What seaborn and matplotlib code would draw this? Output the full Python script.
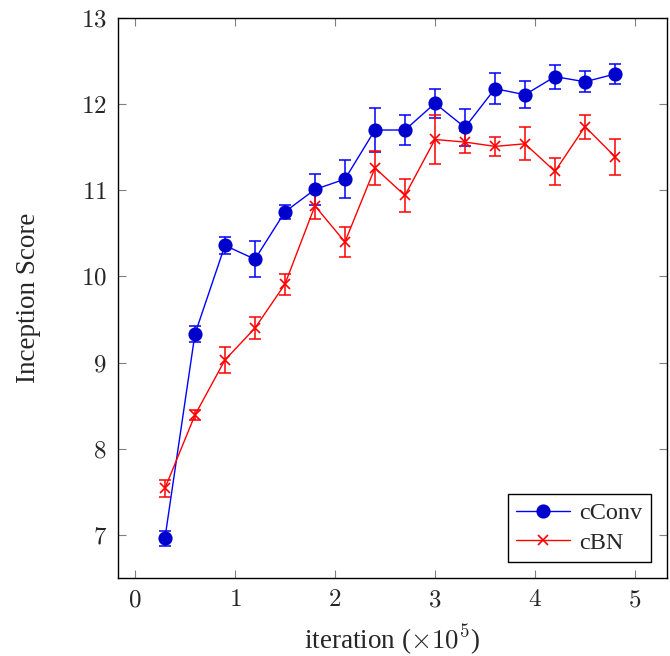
"""
Inception score vs iteration for cConv and cBN, with error bars.
"""

import matplotlib
matplotlib.use("Agg")
import matplotlib.pyplot as plt
import seaborn as sns
import pandas as pd

iterations = [0.3, 0.6, 0.9, 1.2, 1.5, 1.8, 2.1, 2.4, 2.7, 3.0, 3.3, 3.6, 3.9, 4.2, 4.5, 4.8]
cconv_mean = [6.96, 9.33, 10.36, 10.20, 10.75, 11.01, 11.13, 11.70, 11.70, 12.01, 11.73, 12.18, 12.11, 12.32, 12.26, 12.35]
cconv_err = [0.09, 0.09, 0.10, 0.21, 0.08, 0.18, 0.22, 0.25, 0.17, 0.17, 0.21, 0.18, 0.16, 0.14, 0.12, 0.12]
cbn_mean = [7.54, 8.39, 9.03, 9.40, 9.91, 10.82, 10.40, 11.26, 10.94, 11.59, 11.56, 11.51, 11.54, 11.22, 11.74, 11.39]
cbn_err = [0.10, 0.06, 0.15, 0.13, 0.12, 0.15, 0.17, 0.20, 0.19, 0.28, 0.13, 0.11, 0.19, 0.16, 0.14, 0.21]

x_ticks = [0, 1, 2, 3, 4, 5]
y_ticks = [7, 8, 9, 10, 11, 12, 13]

sns.set_style("ticks")
plt.rcParams["font.family"] = ["Liberation Serif", "DejaVu Serif"]
plt.rcParams["mathtext.fontset"] = "cm"

df = pd.concat([
    pd.DataFrame({"iteration": iterations, "score": cconv_mean, "err": cconv_err, "model": "cConv"}),
    pd.DataFrame({"iteration": iterations, "score": cbn_mean, "err": cbn_err, "model": "cBN"}),
])

fig = plt.figure(figsize=(6.7, 6.56), dpi=100)
ax = fig.add_axes([0.176, 0.119, 0.8195, 0.8535])

styles = {
    "cConv": dict(color="#0000ff", marker="o", ms=9, mfc="#0000cc", mec="#0000cc"),
    "cBN": dict(color="#ff0000", marker="x", ms=7, mfc="#ff0000", mec="#ff0000"),
}
for name, sub in df.groupby("model", sort=False):
    st = styles[name]
    ax.errorbar(sub["iteration"], sub["score"], yerr=sub["err"], fmt="none",
                ecolor=st["color"], elinewidth=1.1, capsize=4.5, capthick=1.1, zorder=2)
    sns.lineplot(data=sub, x="iteration", y="score", ax=ax, color=st["color"],
                 marker=st["marker"], markersize=st["ms"], markerfacecolor=st["mfc"],
                 markeredgecolor=st["mec"], markeredgewidth=1.2, linewidth=1.0,
                 label=name, zorder=3)

ax.set_xlim(-0.17, 5.32)
ax.set_ylim(6.5, 13)
ax.set_xticks(x_ticks)
ax.set_xticklabels([f"${v}$" for v in x_ticks])
ax.set_yticks(y_ticks)
ax.set_yticklabels([f"${v}$" for v in y_ticks])
ax.tick_params(direction="in", length=6, color="#808080", labelsize=18,
               top=True, right=True, pad=8)
for sp in ax.spines.values():
    sp.set_color("black")
    sp.set_linewidth(1.0)

ax.set_xlabel(r"iteration ($\times10^5$)", fontsize=19.5, labelpad=8)
ax.set_ylabel("Inception Score", fontsize=19.5, labelpad=29)

leg = ax.legend(loc="lower right", fontsize=17.5, frameon=True, fancybox=False,
                edgecolor="black", framealpha=1, borderaxespad=0.65,
                handlelength=2.2, handletextpad=0.4, borderpad=0.35,
                labelspacing=0.3)
leg.get_frame().set_linewidth(1.0)

fig.savefig("out.png", dpi=100)
